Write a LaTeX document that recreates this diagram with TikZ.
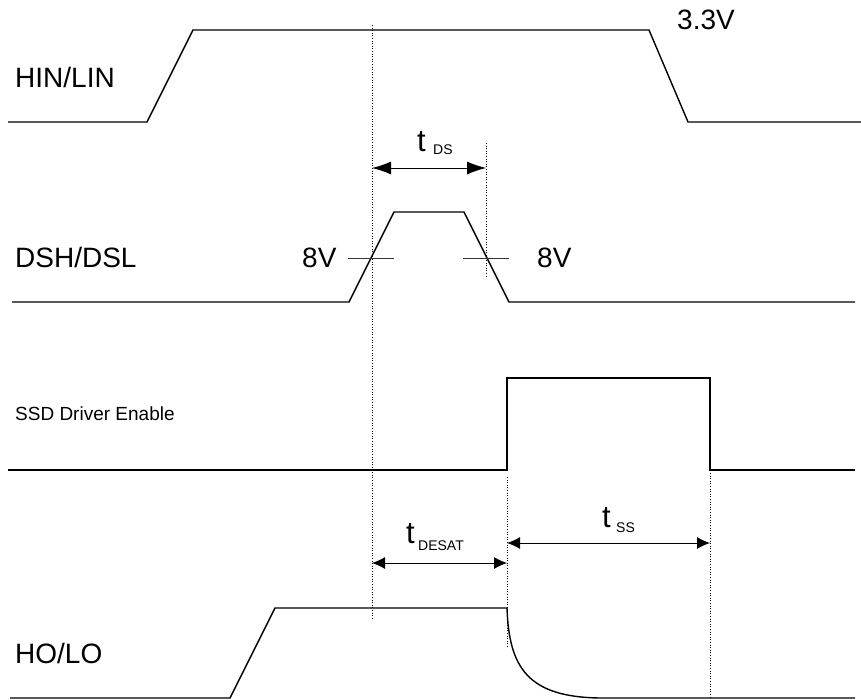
\documentclass[tikz,border=0pt]{standalone}
\usepackage{fontspec}
\setmainfont{Liberation Sans}
\usetikzlibrary{arrows.meta}
\begin{document}
\begin{tikzpicture}[x=1pt,y=-1pt,
  sig/.style={line width=1.4pt, line join=miter},
  guide/.style={line width=0.6pt, dotted},
  tick/.style={line width=0.6pt, black!80},
  dim/.style={line width=0.9pt, {Latex[length=13pt,width=12pt]}-{Latex[length=13pt,width=12pt]}},
  dimbig/.style={line width=0.9pt, {Latex[length=19pt,width=13pt]}-{Latex[length=19pt,width=13pt]}},
  big/.style={font=\fontsize{28}{30}\selectfont, inner sep=0pt, anchor=base west},
  tee/.style={font=\fontsize{31}{33}\selectfont, inner sep=0pt, anchor=base west},
  mid/.style={font=\fontsize{19}{21}\selectfont, inner sep=0pt, anchor=base west},
  sub/.style={font=\fontsize{14}{16}\selectfont, inner sep=0pt, anchor=base west}]
\useasboundingbox (0,0) rectangle (861,700);
% labels
\node[big] (hin) at (15,88) {HIN/LIN};
\node[big] (dsh) at (15,268) {DSH/DSL};
\node[mid] (ssd) at (15,420) {SSD Driver Enable};
\node[big] (ho) at (15,663) {HO/LO};
\node[big] (v33) at (677,30) {3.3V};
\node[big] (v8l) at (302,268) {8V};
\node[big] (v8r) at (537,268) {8V};
\node[tee] (tds) at (417,152) {t};
\node[sub] (tdss) at (433,155) {DS};
\node[tee] (tde) at (406,543) {t};
\node[sub] (tdes) at (418,550) {DESAT};
\node[tee] (tss) at (602,527) {t};
\node[sub] (tsss) at (616,532) {SS};
% coordinates for guides
\coordinate (g1a) at (372,25);  \coordinate (g1b) at (372,618);
\coordinate (g2a) at (486,143); \coordinate (g2b) at (486,278);
\coordinate (g3a) at (507,477); \coordinate (g3b) at (507,647);
\coordinate (g4a) at (710,473); \coordinate (g4b) at (710,697);
\draw[guide] (g1a) -- (g1b);
\draw[guide] (g2a) -- (g2b);
\draw[guide, line width=0.9pt] (g3a) -- (g3b);
\draw[guide] (g4a) -- (g4b);
% HIN/LIN
\draw[sig] (8,122) -- (147,122) -- (193,30) -- (649,30) -- (688,122) -- (861,122);
% DSH/DSL
\draw[sig] (12,302) -- (349,302) -- (394,212) -- (464,212) -- (509,302) -- (855,302);
\coordinate (t1a) at (348,258); \coordinate (t1b) at (394,258);
\coordinate (t2a) at (463,258); \coordinate (t2b) at (509,258);
\draw[tick] (t1a) -- (t1b);
\draw[tick] (t2a) -- (t2b);
% SSD
\draw[sig] (8,470) -- (507,470) -- (507,378) -- (710,378) -- (710,470) -- (855,470);
% HO/LO
\draw[sig] (10,698) -- (230,698) -- (275,608) -- (507,608)
  .. controls (509,668) and (528,697) .. (600,698) -- (855,698);
% dimension arrows
\coordinate (dsa) at (372,168); \coordinate (dsb) at (486,168);
\coordinate (dea) at (372,563); \coordinate (deb) at (507,563);
\coordinate (ssa) at (507,543); \coordinate (ssb) at (710,543);
\draw[dimbig] (dsa) -- (dsb);
\draw[dim] (dea) -- (deb);
\draw[dim] (ssa) -- (ssb);
\end{tikzpicture}
\end{document}
